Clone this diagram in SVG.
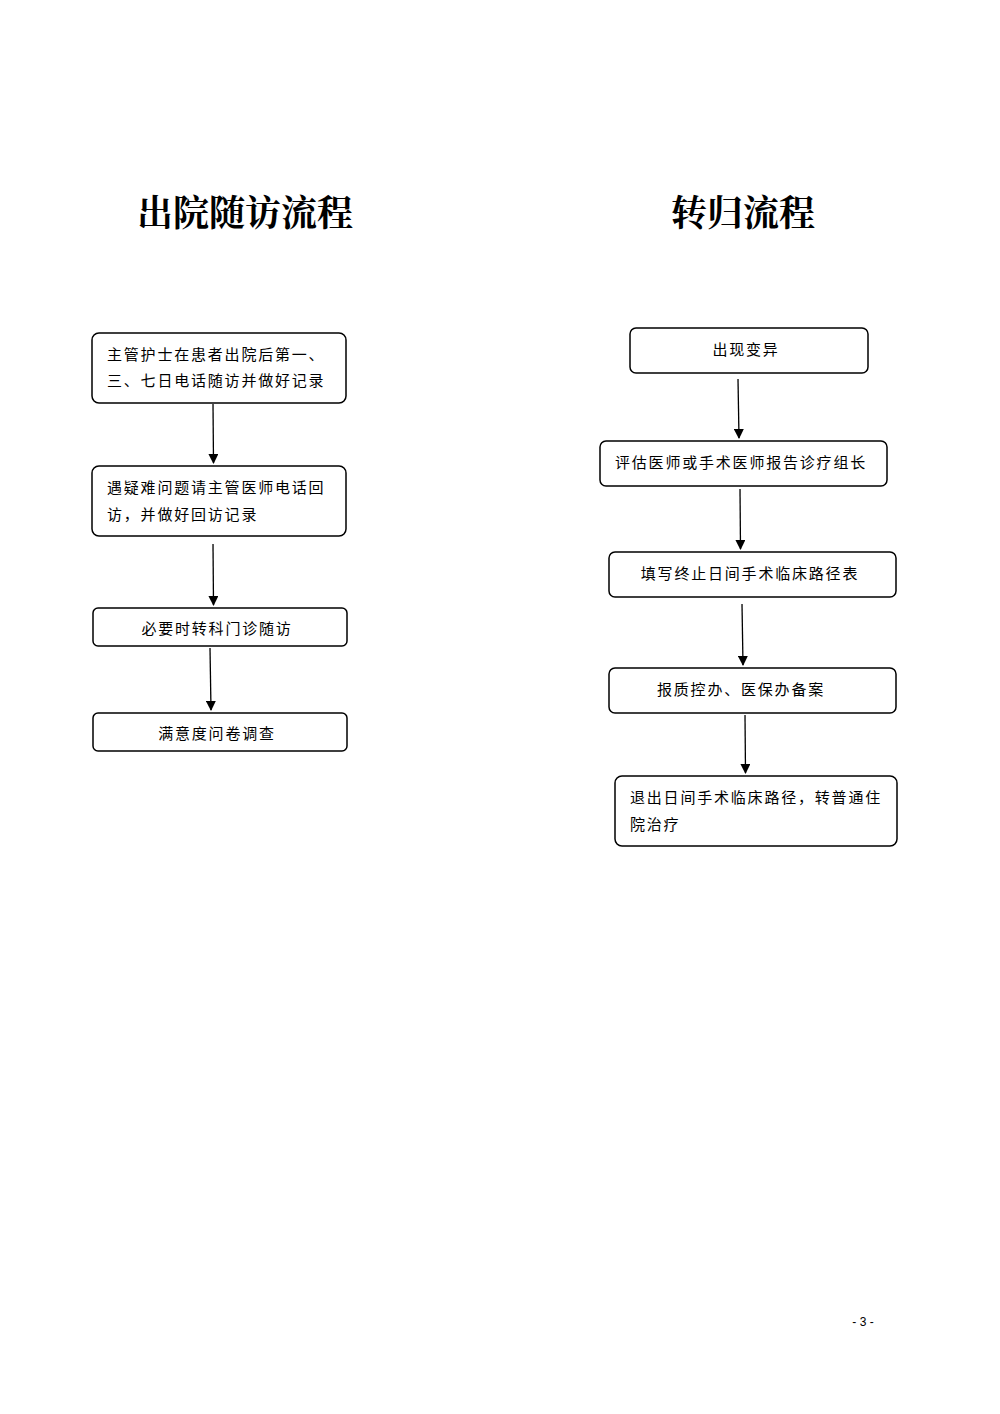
<svg xmlns="http://www.w3.org/2000/svg" width="1000" height="1414" viewBox="0 0 1000 1414">
<style>
.b{fill:#fff;stroke:#000;stroke-width:1.5}
.t{font-family:"Noto Sans CJK SC",sans-serif;font-size:15px;letter-spacing:1.8px;fill:#000}
.h{font-family:"Noto Serif CJK SC","Noto Sans CJK SC",serif;font-size:36px;font-weight:bold;fill:#000}
.c{stroke:#000;stroke-width:1.3;fill:none;marker-end:url(#a)}
</style>
<defs><marker id="a" markerWidth="10" markerHeight="10" refX="9" refY="5" orient="auto" markerUnits="userSpaceOnUse"><path d="M0,0 L10,5 L0,10 z" fill="#000"/></marker></defs>
<rect width="1000" height="1414" fill="#fff"/>
<text class="h" x="245" y="226" text-anchor="middle">出院随访流程</text>
<text class="h" x="743" y="226" text-anchor="middle">转归流程</text>
<g id="n1"><rect class="b" x="92" y="333" width="254" height="70" rx="7"/><text class="t" x="107" y="360">主管护士在患者出院后第一、</text><text class="t" x="107" y="386">三、七日电话随访并做好记录</text></g>
<g id="n2"><rect class="b" x="92" y="466" width="254" height="70" rx="7"/><text class="t" x="107" y="493">遇疑难问题请主管医师电话回</text><text class="t" x="107" y="520">访，并做好回访记录</text></g>
<g id="n3"><rect class="b" x="93" y="608" width="254" height="38" rx="5"/><text class="t" x="217" y="634" text-anchor="middle">必要时转科门诊随访</text></g>
<g id="n4"><rect class="b" x="93" y="713" width="254" height="38" rx="5"/><text class="t" x="217" y="739" text-anchor="middle">满意度问卷调查</text></g>
<g id="m1"><rect class="b" x="630" y="328" width="238" height="45" rx="6"/><text class="t" x="746" y="355" text-anchor="middle">出现变异</text></g>
<g id="m2"><rect class="b" x="600" y="441" width="287" height="45" rx="6"/><text class="t" x="741" y="468" text-anchor="middle">评估医师或手术医师报告诊疗组长</text></g>
<g id="m3"><rect class="b" x="609" y="552" width="287" height="45" rx="6"/><text class="t" x="750" y="579" text-anchor="middle">填写终止日间手术临床路径表</text></g>
<g id="m4"><rect class="b" x="609" y="668" width="287" height="45" rx="6"/><text class="t" x="741" y="695" text-anchor="middle">报质控办、医保办备案</text></g>
<g id="m5"><rect class="b" x="615" y="776" width="282" height="70" rx="7"/><text class="t" x="630" y="803">退出日间手术临床路径，转普通住</text><text class="t" x="630" y="830">院治疗</text></g>
<g id="connectors">
<line class="c" x1="213" y1="404" x2="213.5" y2="463"/>
<line class="c" x1="213" y1="544" x2="213.5" y2="605"/>
<line class="c" x1="210" y1="648" x2="211" y2="710"/>
<line class="c" x1="738" y1="379" x2="739" y2="438"/>
<line class="c" x1="740" y1="489" x2="740.5" y2="549"/>
<line class="c" x1="742" y1="604" x2="743" y2="665"/>
<line class="c" x1="745" y1="715" x2="745.5" y2="773"/>
</g>
<text x="863" y="1326" font-family="Liberation Sans,sans-serif" font-size="12" text-anchor="middle">- 3 -</text>
</svg>
